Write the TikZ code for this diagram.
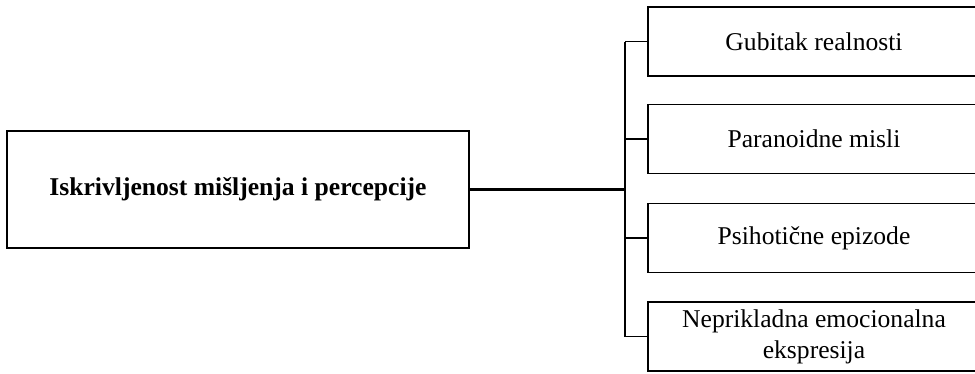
\documentclass[tikz,border=0pt]{standalone}
\usepackage{fontspec}
\setmainfont{Liberation Serif}
\usetikzlibrary{calc}
\tikzset{box/.style={draw,line width=1.8pt,inner sep=2pt,align=center,font=\fontsize{25.6pt}{31pt}\selectfont},
  mainbox/.style={box,minimum width=462pt,minimum height=117pt,font=\fontsize{25.6pt}{31pt}\selectfont\bfseries},
  sidebox/.style={box,minimum width=332pt,minimum height=69pt}}

\begin{document}
\begin{tikzpicture}[x=1pt,y=-1pt,line width=1.8pt]
  \useasboundingbox (0,0) rectangle (975,373);
  \clip (0,0) rectangle (975,373);
  \node[mainbox] (m) at (238,189.5) {Iskrivljenost mišljenja i percepcije};
  \node[sidebox] (b1) at (814,41.5) {Gubitak realnosti};
  \node[sidebox] (b2) at (814,139) {Paranoidne misli};
  \node[sidebox] (b3) at (814,238) {Psihotične epizode};
  \node[sidebox] (b4) at (814,336.5) {Neprikladna emocionalna\\ekspresija};
  \coordinate (fork) at (625,189.5);
  \draw[line width=2.2pt] (m) -- (fork);
  \draw[line width=2.2pt] (fork |- b1.west) -- (fork |- b4.west);
  \foreach \i in {1,...,4}
   \draw (fork |- b\i.west) -- (b\i);
 \end{tikzpicture}
\end{document}
